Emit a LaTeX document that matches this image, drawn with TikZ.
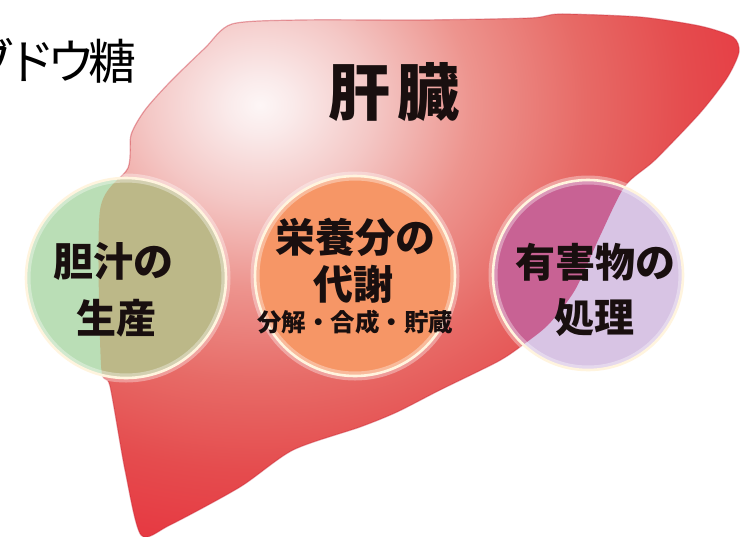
\documentclass[tikz,border=0pt]{standalone}
\usepackage{fontspec}
\newfontfamily\jp{Noto Sans CJK JP}
\newfontfamily\jptight{Noto Sans CJK JP}[LetterSpace=-15]
\newfontfamily\jpwide{Noto Sans CJK JP}[LetterSpace=10]

% liver body colours, from the pale highlight out to the deep red rim
\definecolor{lvA}{RGB}{253,246,246}
\definecolor{lvB}{RGB}{250,234,234}
\definecolor{lvC}{RGB}{244,200,198}
\definecolor{lvD}{RGB}{237,148,142}
\definecolor{lvE}{RGB}{231,106,102}
\definecolor{lvF}{RGB}{229,76,78}
\definecolor{lvG}{RGB}{231,48,60}
\definecolor{liverRim}{RGB}{200,35,50}

% function discs: colour outside the liver / where they lie on it
\definecolor{bileOut}{RGB}{186,222,182}
\definecolor{bileIn}{RGB}{188,184,136}
\definecolor{nutrIn}{RGB}{246,150,102}
\definecolor{toxOut}{RGB}{216,196,228}
\definecolor{toxIn}{RGB}{200,98,148}
\definecolor{ringc}{RGB}{255,244,222}
\definecolor{inkc}{RGB}{25,15,15}

% the shaded ellipse's outline sits at 25bp
\pgfdeclareradialshading{liverglow}{\pgfpoint{0bp}{0bp}}{%
  color(0bp)=(lvA); color(1.5bp)=(lvB); color(5bp)=(lvC); color(9.5bp)=(lvD);
  color(14.5bp)=(lvE); color(19bp)=(lvF); color(25bp)=(lvG); color(50bp)=(lvG)}

% outline of the liver
\def\liverpath{plot[smooth cycle, tension=0.45] coordinates {
  (128,168) (131,135) (145,110) (170,82) (205,48) (232,24) (300,20) (420,20)
  (530,18) (560,14) (640,17) (700,26) (733,37) (739,52) (727,78) (700,113)
  (655,160) (625,186) (600,236) (575,290) (548,325) (520,347) (497,362)
  (440,390) (397,412) (360,427) (293,450) (240,487) (170,525) (141,535)
  (125,470) (110,386) (101,365) (100,210)}}

\begin{document}
\begin{tikzpicture}[x=1pt,y=-1pt,
  disc/.style={circle, minimum size=#1, inner sep=0pt},
  ring/.style={draw=ringc, line width=2.6pt},
  glow/.style={draw=white, line width=9pt, opacity=0.35},
  liveredge/.style={draw=liverRim, line width=1.2pt, opacity=0.4},
  bigjp/.style={inner sep=0pt, text=inkc, font=\jp\bfseries\fontsize{40}{40}\selectfont},
  smalljp/.style={inner sep=0pt, text=inkc, font=\jp\bfseries\fontsize{24.5}{24.5}\selectfont},
  titlejp/.style={inner sep=0pt, text=inkc, font=\jpwide\bfseries\fontsize{62}{62}\selectfont},
  plainjp/.style={inner sep=0pt, text=black, font=\jptight\fontsize{48}{48}\selectfont}]

\useasboundingbox (0,0) rectangle (747,536);
\fill[white] (0,0) rectangle (747,536);

% liver with its soft highlight
\begin{scope}
  \clip \liverpath;
  \shade[shading=liverglow] (260,105) ellipse [x radius=560, y radius=480];
\end{scope}
\draw[liveredge] \liverpath;

% the three function discs
\node[disc=200pt, fill=bileOut] (bile) at (126,278) {};
\node[disc=200pt, fill=nutrIn] (nutr) at (355,276) {};
\node[disc=190pt, fill=toxOut] (tox) at (588,275) {};

\begin{scope}
  \clip \liverpath;
  \fill[bileIn] (bile.center) circle [radius=100];
  \fill[toxIn] (tox.center) circle [radius=95];
\end{scope}

\foreach \d/\r in {bile/100, nutr/100, tox/95} {
  \draw[glow] (\d.center) circle [radius=\r];
  \draw[ring] (\d.center) circle [radius=\r];
}

% labels
\node[plainjp, anchor=east] (glucose) at (137,61) {ブドウ糖};
\node[titlejp] (title) at (394,92) {肝臓};

\node[bigjp] (bileA) at (113,261) {胆汁の};
\node[bigjp] (bileB) at (116,318) {生産};

\node[bigjp] (nutrA) at (355,237) {栄養分の};
\node[bigjp] (nutrB) at (353,284) {代謝};
\node[smalljp] (nutrC) at (355,322) {分解・合成・貯蔵};

\node[bigjp] (toxA) at (595,262) {有害物の};
\node[bigjp] (toxB) at (594,318) {処理};
\end{tikzpicture}
\end{document}
